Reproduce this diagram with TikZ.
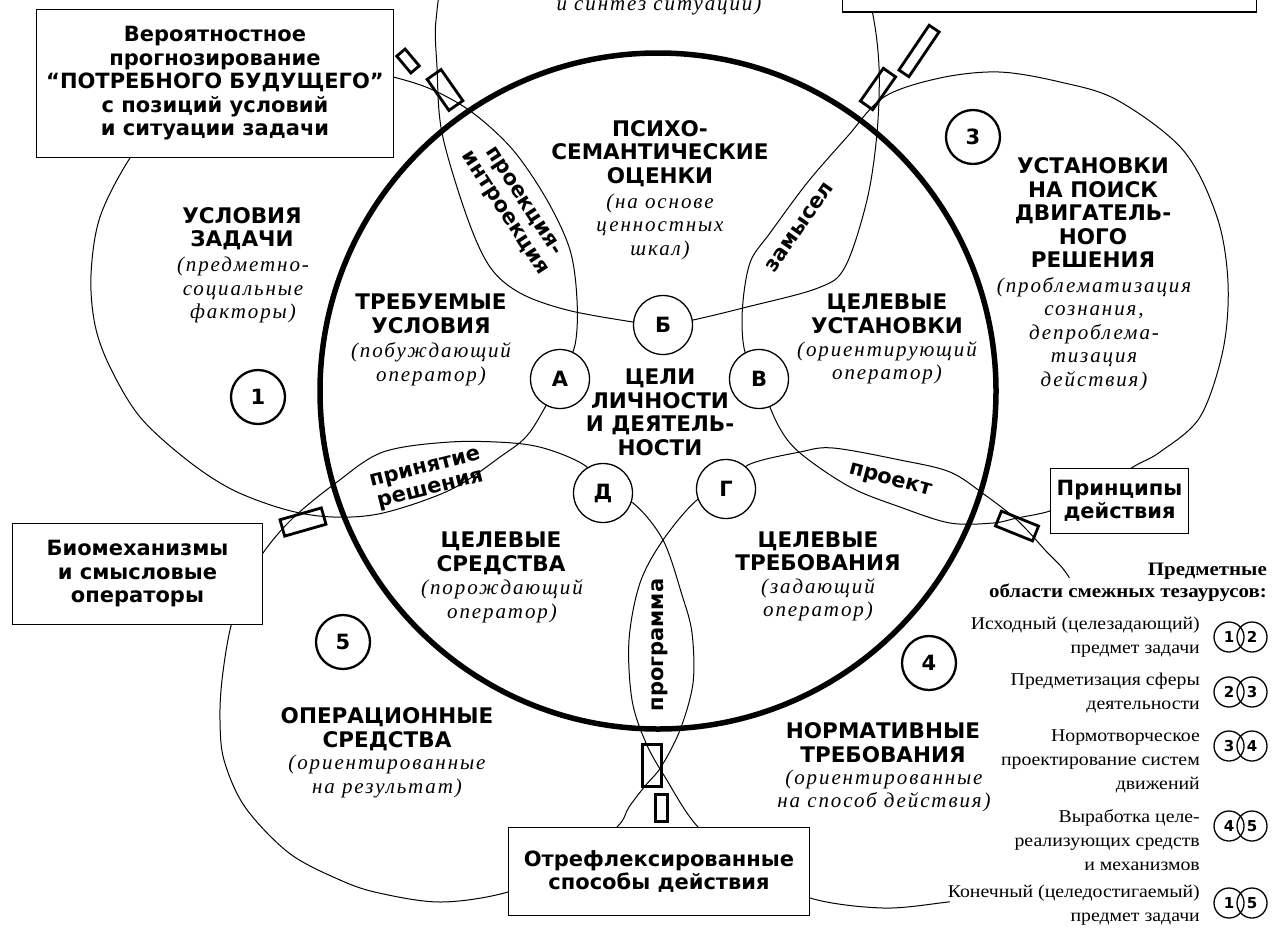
\documentclass[tikz,border=0pt]{standalone}
\usepackage{fontspec}
\setmainfont{Liberation Serif}
\newfontfamily\hvfont{DejaVu Sans}
\newfontfamily\itfont{Liberation Serif}[LetterSpace=9]
\newfontfamily\lgfont{Liberation Serif}[FakeStretch=1.1]
\newcommand\hv{\hvfont\bfseries}
\begin{document}
\begin{tikzpicture}[x=1pt,y=-1pt,
  outline/.style={line width=1pt,line join=round},
  bigring/.style={line width=5.5pt},
  letterc/.style={circle,draw,line width=1.3pt,fill=white,minimum size=59pt,inner sep=0pt,font=\hv\fontsize{21}{21}\selectfont},
  numc/.style={circle,draw,line width=2.3pt,fill=white,minimum size=54pt,inner sep=0pt,font=\hv\fontsize{21}{21}\selectfont},
  boxnode/.style={draw,line width=1.3pt,fill=white,inner sep=0pt,align=center,font=\hv\fontsize{21}{23.5}\selectfont},
  markerbox/.style={draw,line width=2.8pt,inner sep=0pt},
  hdtext/.style={align=center,inner sep=0pt,font=\hv\fontsize{21.5}{23.5}\selectfont},
  subtext/.style={align=center,inner sep=0pt,font=\itfont\itshape\fontsize{21}{23.5}\selectfont},
  lenstext/.style={align=center,inner sep=0pt,font=\hv\fontsize{21}{22}\selectfont},
  legtext/.style={align=right,inner sep=0pt,font=\lgfont\fontsize{18}{24}\selectfont},
  legc/.style={circle,draw,line width=1.3pt,minimum size=30pt,inner sep=0pt,font=\hv\fontsize{15}{15}\selectfont}
]
\useasboundingbox (0,0) rectangle (1273,929);
\clip (0,0) rectangle (1273,929);

% ---------- outer petals ----------
% 1 upper-left
\draw[outline] plot[smooth,tension=0.55] coordinates {(560,379) (575,345) (577,300) (570,250) (547,200) (513,150) (473,113) (433,90) (393,77) (340,67) (280,66) (220,80) (168,112) (130,158) (100,217) (91,275) (95,325) (110,367) (140,417) (187,460) (233,490) (287,510) (333,517) (383,513) (450,490) (500,457) (530,432) (560,379)};
% 2 top
\draw[outline] plot[smooth,tension=0.55] coordinates {(663,325) (693,320) (747,307) (818,288) (845,267) (867,200) (877,133) (879,67) (872,10) (855,-50) (800,-110) (700,-140) (600,-135) (500,-90) (448,-30) (436,20) (437,67) (442,133) (467,217) (490,267) (520,293) (567,310) (633,322) (663,325)};
% 3 upper-right
\draw[outline] plot[smooth,tension=0.55] coordinates {(759,379) (745,352) (742,320) (745,285) (752,258) (770,233) (807,183) (847,137) (884,97) (940,78) (999,72) (1060,82) (1117,100) (1183,150) (1217,217) (1228,283) (1223,350) (1200,417) (1160,452) (1133,467) (1090,495) (1050,511) (1017,518) (993,523) (950,523) (900,507) (850,487) (800,453) (778,425) (759,379)};
% 4 lower-right
\draw[outline] plot[smooth,tension=0.55] coordinates {(726,489) (748,465) (800,452) (833,448) (900,460) (950,472) (985,495) (1017,520) (1045,550) (1070,579) (1095,640) (1105,720) (1090,800) (1050,865) (1000,895) (948,902) (883,908) (810,898) (750,868) (698,827) (665,777) (646,743) (632,700) (629,640) (640,583) (663,540) (697,500) (726,489)};
% 5 lower-left
\draw[outline] plot[smooth,tension=0.55] coordinates {(603,493) (587,467) (550,450) (513,443) (450,442) (383,452) (337,482) (293,518) (263,553) (243,590) (230,630) (222,680) (220,720) (224,760) (245,807) (289,853) (340,880) (379,893) (441,902) (508,892) (570,865) (617,827) (629,807) (645,786) (661,767) (680,730) (693,683) (692,633) (682,595) (663,540) (633,503) (603,493)};

% ---------- central ring ----------
\draw[bigring] (658,391) circle (338pt);

% legend backdrop
\fill[white] (950,578) rectangle (1273,929);

% ---------- boxes ----------
\node[boxnode,minimum width=357pt,minimum height=148pt] (bx1) at (215,83.5) {Вероятностное\\прогнозирование\\“ПОТРЕБНОГО БУДУЩЕГО”\\с позиций условий\\и ситуации задачи};
\node[boxnode,minimum width=250pt,minimum height=101pt] (bx2) at (137.5,574) {Биомеханизмы\\и смысловые\\операторы};
\node[boxnode,minimum width=138pt,minimum height=65pt] (bx3) at (1119.5,501) {Принципы\\действия};
\node[boxnode,minimum width=301pt,minimum height=88pt] (bx4) at (659,871.5) {Отрефлексированные\\способы действия};
\node[boxnode,minimum width=414pt,minimum height=40pt] (bx5) at (1049.5,-8) {};

% ---------- markers ----------
\node[markerbox,minimum width=22pt,minimum height=11pt,rotate=-50] (mk1) at (408,61) {};
\node[markerbox,minimum width=38pt,minimum height=17pt,rotate=-55] (mk2) at (445,90) {};
\node[markerbox,minimum width=40pt,minimum height=15pt,rotate=55] (mk3) at (878,89) {};
\node[markerbox,minimum width=54pt,minimum height=12pt,rotate=56] (mk4) at (919,51) {};
\node[markerbox,minimum width=43pt,minimum height=17pt,rotate=16] (mk5) at (303,522) {};
\node[markerbox,minimum width=40pt,minimum height=16pt,rotate=-22] (mk6) at (1017,526) {};
\node[markerbox,minimum width=19pt,minimum height=42pt] (mk7) at (652,765.5) {};
\node[markerbox,minimum width=12pt,minimum height=27pt] (mk8) at (661.5,808) {};

% ---------- letter circles ----------
\node[letterc] (cA) at (560,379) {А};
\node[letterc] (cB) at (663,325) {Б};
\node[letterc] (cV) at (759,379) {В};
\node[letterc] (cG) at (726,489) {Г};
\node[letterc] (cD) at (603,493) {Д};

% ---------- number circles ----------
\node[numc] (n1) at (258,397) {1};
\node[numc] (n3) at (973,137) {3};
\node[numc] (n4) at (929,663) {4};
\node[numc] (n5) at (343,642) {5};

% ---------- region texts ----------
\node[subtext] (s2) at (659,5) {и синтез ситуации)};
\node[hdtext] (h2) at (660,153.5) {ПСИХО-\\СЕМАНТИЧЕСКИЕ\\ОЦЕНКИ};
\node[subtext] (s2b) at (660,226.5) {(на основе\\ценностных\\шкал)};
\node[hdtext] (h1) at (242,228.5) {УСЛОВИЯ\\ЗАДАЧИ};
\node[subtext] (s1) at (243,290) {(предметно-\\социальные\\факторы)};
\node[hdtext] (hA) at (431,314) {ТРЕБУЕМЫЕ\\УСЛОВИЯ};
\node[subtext] (sA) at (431,364) {(побуждающий\\оператор)};
\node[hdtext] (hV) at (887,314) {ЦЕЛЕВЫЕ\\УСТАНОВКИ};
\node[subtext] (sV) at (887,363) {(ориентирующий\\оператор)};
\node[hdtext] (h3) at (1093,213) {УСТАНОВКИ\\НА ПОИСК\\ДВИГАТЕЛЬ-\\НОГО\\РЕШЕНИЯ};
\node[subtext] (s3) at (1094,334) {(проблематизация\\сознания,\\депроблема-\\тизация\\действия)};
\node[hdtext] (hc) at (660,412.5) {ЦЕЛИ\\ЛИЧНОСТИ\\И ДЕЯТЕЛЬ-\\НОСТИ};
\node[hdtext] (hD) at (501,553.5) {ЦЕЛЕВЫЕ\\СРЕДСТВА};
\node[subtext] (sD) at (502,601.5) {(порождающий\\оператор)};
\node[hdtext] (hG) at (818,551.5) {ЦЕЛЕВЫЕ\\ТРЕБОВАНИЯ};
\node[subtext] (sG) at (818,600) {(задающий\\оператор)};
\node[hdtext] (h5) at (387,729) {ОПЕРАЦИОННЫЕ\\СРЕДСТВА};
\node[subtext] (s5) at (387,776.5) {(ориентированные\\на результат)};
\node[hdtext] (h4) at (883,742.5) {НОРМАТИВНЫЕ\\ТРЕБОВАНИЯ};
\node[subtext] (s4) at (884,791) {(ориентированные\\на способ действия)};

% ---------- lens texts ----------
\node[lenstext,rotate=-57] (l12) at (513,208) {проекция-\\интроекция};
\node[lenstext,rotate=55] (l23) at (800,227) {замысел};
\node[lenstext,rotate=-15] (l34) at (890,481) {проект};
\node[lenstext,rotate=90] (l45) at (660,645) {программа};
\node[lenstext,rotate=14] (l51) at (428,480) {принятие\\решения};

% ---------- legend ----------
\node[legtext,anchor=east,font=\lgfont\bfseries\fontsize{19}{22}\selectfont] (lgh) at (1267,582) {Предметные\\области смежных тезаурусов:};
\node[legtext,anchor=east] (lg1) at (1200,637.5) {Исходный (целезадающий)\\предмет задачи};
\node[legtext,anchor=east] (lg2) at (1200,693) {Предметизация сферы\\деятельности};
\node[legtext,anchor=east] (lg3) at (1200,761.5) {Нормотворческое\\проектирование систем\\движений};
\node[legtext,anchor=east] (lg4) at (1200,840) {Выработка целе-\\реализующих средств\\и механизмов};
\node[legtext,anchor=east] (lg5) at (1200,905.5) {Конечный (целедостигаемый)\\предмет задачи};

\node[legc] (i1a) at (1229,637) {1}; \node[legc] (i1b) at (1252,637) {2};
\node[legc] (i2a) at (1229,692) {2}; \node[legc] (i2b) at (1252,692) {3};
\node[legc] (i3a) at (1229,746) {3}; \node[legc] (i3b) at (1252,746) {4};
\node[legc] (i4a) at (1229,826) {4}; \node[legc] (i4b) at (1252,826) {5};
\node[legc] (i5a) at (1229,903) {1}; \node[legc] (i5b) at (1252,903) {5};
\end{tikzpicture}
\end{document}
